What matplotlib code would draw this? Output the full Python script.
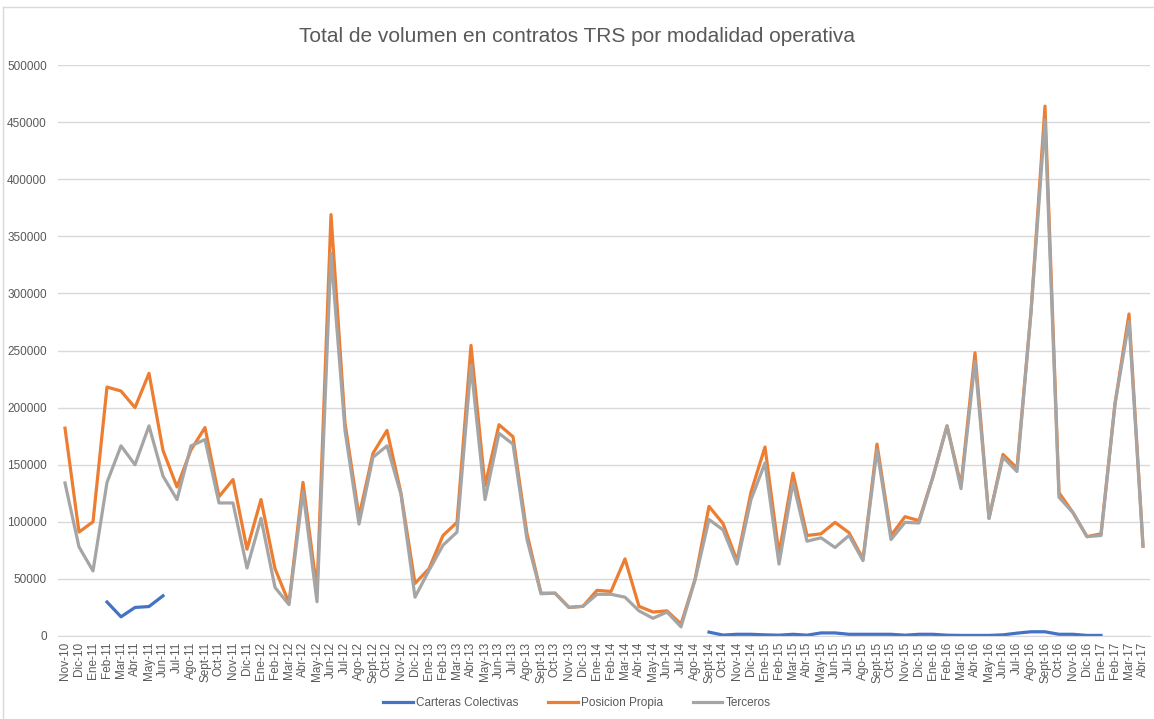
import matplotlib
matplotlib.use("Agg")
import matplotlib.pyplot as plt
from matplotlib.lines import Line2D
import numpy as np

plt.rcParams['font.family'] = ['Liberation Sans', 'DejaVu Sans']

meses = ["Nov-10", "Dic-10",
         "Ene-11", "Feb-11", "Mar-11", "Abr-11", "May-11", "Jun-11",
         "Jul-11", "Ago-11", "Sept-11", "Oct-11", "Nov-11", "Dic-11",
         "Ene-12", "Feb-12", "Mar-12", "Abr-12", "May-12", "Jun-12",
         "Jul-12", "Ago-12", "Sept-12", "Oct-12", "Nov-12", "Dic-12",
         "Ene-13", "Feb-13", "Mar-13", "Abr-13", "May-13", "Jun-13",
         "Jul-13", "Ago-13", "Sept-13", "Oct-13", "Nov-13", "Dic-13",
         "Ene-14", "Feb-14", "Mar-14", "Abr-14", "May-14", "Jun-14",
         "Jul-14", "Ago-14", "Sept-14", "Oct-14", "Nov-14", "Dic-14",
         "Ene-15", "Feb-15", "Mar-15", "Abr-15", "May-15", "Jun-15",
         "Jul-15", "Ago-15", "Sept-15", "Oct-15", "Nov-15", "Dic-15",
         "Ene-16", "Feb-16", "Mar-16", "Abr-16", "May-16", "Jun-16",
         "Jul-16", "Ago-16", "Sept-16", "Oct-16", "Nov-16", "Dic-16",
         "Ene-17", "Feb-17", "Mar-17", "Abr-17"]

posicion_propia = [182000, 91000, 100000, 218000, 214500, 200000, 230000, 162500,
                   130500, 163000, 182500, 122000, 137000, 76000,
                   119500, 59000, 29000, 134500, 40000, 369000,
                   186500, 104500, 160000, 180000, 125000, 46000,
                   59000, 88000, 99500, 254500, 131500, 185000,
                   174500, 89500, 37500, 37500, 25000, 26000,
                   40000, 39000, 67500, 26000, 21000, 22000,
                   10500, 49500, 113500, 98500, 66000, 126000,
                   165500, 72000, 142500, 88000, 89500, 99500,
                   90500, 67500, 168000, 88000, 104500, 101000,
                   139500, 184000, 132000, 248000, 103000, 159000,
                   147000, 284000, 464000, 125500, 108000, 87000,
                   89500, 203500, 282000, 79000]

terceros = [134000, 78000, 57000, 134500, 166500, 150000, 184000, 140000,
            119500, 166500, 172000, 116500, 116500, 59500,
            103000, 42500, 27500, 126500, 30000, 335000,
            180000, 98000, 156500, 166500, 124000, 34000,
            57500, 79500, 91000, 237000, 119500, 177500,
            168000, 84500, 37000, 37500, 25000, 26000,
            36500, 36500, 34000, 22000, 15500, 21000,
            8000, 49000, 102000, 93000, 63000, 119500,
            151500, 63000, 134500, 83000, 86000, 77500,
            88000, 66000, 163000, 84500, 99500, 99000,
            139500, 184000, 129000, 240500, 103000, 156500,
            144000, 283500, 452000, 121500, 108000, 87000,
            88000, 203000, 275500, 78500]

# Carteras Colectivas only has data for two stretches
carteras_colectivas = [np.nan, np.nan, np.nan, 29800, 16800, 25000, 25800, 35200] + \
    [np.nan] * 38 + \
    [3400, 800, 1500, 1500, 1000, 700, 1500, 700, 2700, 2700,
     1500, 1500, 1500, 1500, 700, 1500, 1500, 700, 500, 500,
     500, 1000, 2500, 3700, 3700, 1500, 1500, 500, 500] + \
    [np.nan] * 3

x = np.arange(len(meses))

fig = plt.figure(figsize=(11.54, 7.19), dpi=100)
ax = fig.add_axes([58 / 1154, 1 - 636 / 719, 1092 / 1154, 571 / 719])

azul = '#4472C4'
naranja = '#ED7D31'
gris = '#A5A5A5'

ax.plot(x, carteras_colectivas, color=azul, lw=2.3, label='Carteras Colectivas')
ax.plot(x, posicion_propia, color=naranja, lw=2.3, label='Posicion Propia')
ax.plot(x, terceros, color=gris, lw=2.3, label='Terceros')

ax.set_xlim(-0.5, len(meses) - 0.5)
ax.set_ylim(0, 500000)
ax.set_yticks(np.arange(0, 500001, 50000))
ax.set_yticklabels([str(v) for v in range(0, 500001, 50000)])
ax.set_xticks(x)
ax.set_xticklabels(meses, rotation=90)
ax.tick_params(axis='x', length=0, labelsize=8.5, labelcolor='#595959', pad=4)
ax.tick_params(axis='y', length=0, labelsize=8.5, labelcolor='#595959', pad=8)

ax.grid(axis='y', color='#D9D9D9', lw=1)
ax.set_axisbelow(True)
for s in ['top', 'right', 'left']:
    ax.spines[s].set_visible(False)
ax.spines['bottom'].set_color('#D9D9D9')

fig.text(0.5, 1 - 36 / 719, 'Total de volumen en contratos TRS por modalidad operativa',
         ha='center', va='center', fontsize=15, color='#595959')

handles = [Line2D([], [], color=azul, lw=2.3),
           Line2D([], [], color=naranja, lw=2.3),
           Line2D([], [], color=gris, lw=2.3)]
fig.legend(handles, ['Carteras Colectivas', 'Posicion Propia', 'Terceros'],
           loc='center', bbox_to_anchor=(0.5, 1 - 703 / 719), ncol=3, frameon=False,
           fontsize=8.5, labelcolor='#595959', handlelength=2.5, columnspacing=2.5,
           handletextpad=0.3)

# chart frame
fig.add_artist(Line2D([3 / 1154, 3 / 1154], [0, 1 - 7 / 719], color='#D9D9D9', lw=1,
                      transform=fig.transFigure))
fig.add_artist(Line2D([3 / 1154, 1], [1 - 7 / 719, 1 - 7 / 719], color='#D9D9D9', lw=1,
                      transform=fig.transFigure))

fig.savefig('out.png', dpi=100, facecolor='white')
